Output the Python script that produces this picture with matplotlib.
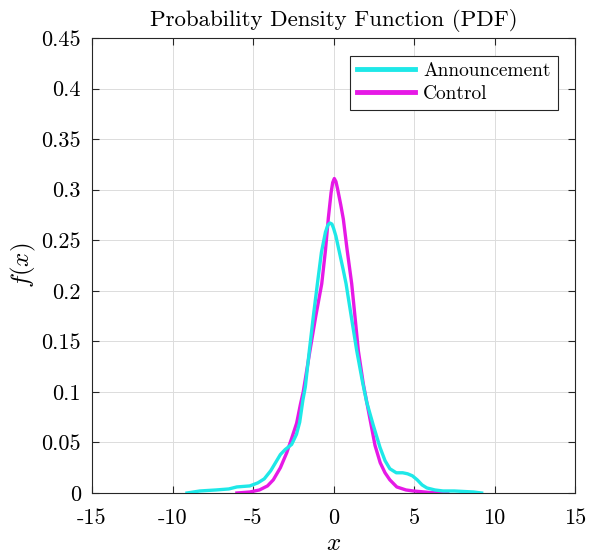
import matplotlib
matplotlib.use("Agg")
import matplotlib.pyplot as plt

# Data
ann_x = [-9.1, -8.3, -7.3, -6.5, -6.0, -5.2, -4.7, -4.3, -3.9, -3.6, -3.3, -3.0,
         -2.6, -2.3, -2.1, -1.9, -1.75, -1.5, -1.25, -1.0, -0.75, -0.5, -0.35,
         -0.22, -0.1, 0.0, 0.15, 0.3, 0.45, 0.6, 0.78, 1.1, 1.44, 1.8, 2.06,
         2.47, 2.89, 3.2, 3.5, 3.9, 4.3, 4.6, 4.9, 5.2, 5.5, 5.8, 6.3, 6.8, 7.5,
         8.1, 8.7, 9.2]
ann_y = [0.000, 0.002, 0.003, 0.004, 0.006, 0.007, 0.010, 0.014, 0.022, 0.030,
         0.038, 0.043, 0.048, 0.058, 0.070, 0.092, 0.105, 0.141, 0.175, 0.207,
         0.238, 0.258, 0.265, 0.267, 0.266, 0.262, 0.254, 0.243, 0.232, 0.221,
         0.207, 0.175, 0.141, 0.110, 0.090, 0.067, 0.045, 0.032, 0.024, 0.020,
         0.020, 0.019, 0.017, 0.013, 0.008, 0.005, 0.003, 0.002, 0.002, 0.0015,
         0.001, 0.000]

ctl_x = [-6.0, -5.2, -4.6, -4.1, -3.74, -3.3, -2.9, -2.6, -2.29, -2.05, -1.88,
         -1.46, -1.1, -0.73, -0.5, -0.32, -0.15, -0.05, 0.05, 0.15, 0.25, 0.45,
         0.61, 0.85, 1.13, 1.35, 1.54, 1.85, 2.22, 2.58, 2.9, 3.2, 3.5, 3.93,
         4.5, 4.96, 6.0, 7.1]
ctl_y = [0.000, 0.001, 0.003, 0.007, 0.013, 0.025, 0.040, 0.054, 0.069, 0.088,
         0.100, 0.141, 0.175, 0.207, 0.240, 0.272, 0.297, 0.307, 0.311, 0.308,
         0.301, 0.285, 0.271, 0.240, 0.207, 0.172, 0.141, 0.108, 0.077, 0.047,
         0.030, 0.020, 0.013, 0.006, 0.003, 0.002, 0.0005, 0.000]

x_ticks = [-15, -10, -5, 0, 5, 10, 15]
x_tick_labels = ["-15", "-10", "-5", "0", "5", "10", "15"]
y_ticks = [0, 0.05, 0.1, 0.15, 0.2, 0.25, 0.3, 0.35, 0.4, 0.45]
y_tick_labels = ["0", "0.05", "0.1", "0.15", "0.2", "0.25", "0.3", "0.35", "0.4", "0.45"]

plt.rcParams["font.family"] = ["cmr10", "DejaVu Serif"]
plt.rcParams["mathtext.fontset"] = "cm"
plt.rcParams["axes.unicode_minus"] = False

fig = plt.figure(figsize=(5.95, 5.57), dpi=100)
ax = fig.add_axes([92/595, 64/557, 483/595, 455/557])

ax.plot(ann_x, ann_y, color="#1ee8e8", lw=2.4, label="Announcement", zorder=3)
ax.plot(ctl_x, ctl_y, color="#e619e6", lw=2.4, label="Control", zorder=2)

ax.set_xlim(-15, 15)
ax.set_ylim(0, 0.45)
ax.set_xticks(x_ticks)
ax.set_xticklabels(x_tick_labels)
ax.set_yticks(y_ticks)
ax.set_yticklabels(y_tick_labels)
ax.tick_params(direction="in", top=True, right=True, labelsize=16,
               length=5, width=0.8, color="#262626")
ax.tick_params(axis="x", pad=11)
ax.tick_params(axis="y", pad=8)
ax.grid(True, color="#dcdcdc", lw=0.7)
ax.set_axisbelow(True)
for s in ax.spines.values():
    s.set_color("#262626")
    s.set_linewidth(0.8)

ax.set_title("Probability Density Function (PDF)", fontsize=16.5, pad=9)
ax.set_xlabel("$x$", fontsize=18, labelpad=4)
ax.set_ylabel("$f(x)$", fontsize=18, labelpad=2)

leg = ax.legend(loc="upper right", fontsize=14, fancybox=False,
                edgecolor="#262626", framealpha=1, handlelength=3.0,
                borderaxespad=0.9, handletextpad=0.4, labelspacing=0.25,
                borderpad=0.35)
for line in leg.get_lines():
    line.set_linewidth(3.5)
leg.get_frame().set_linewidth(0.8)

fig.savefig("out.png", dpi=100)
